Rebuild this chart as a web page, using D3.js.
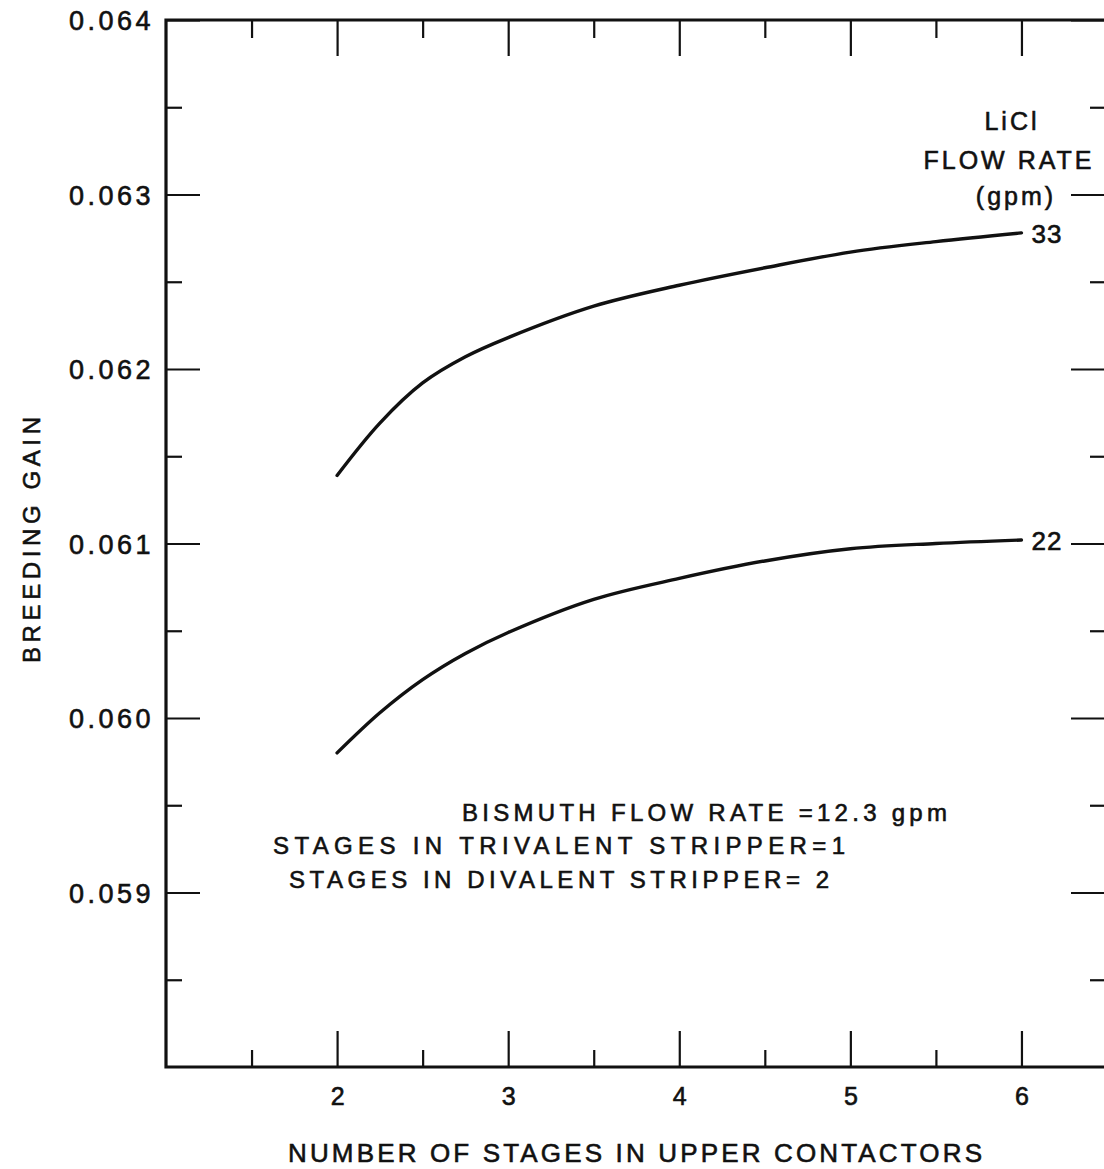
<!DOCTYPE html>
<html><head><meta charset="utf-8">
<script src="https://cdn.jsdelivr.net/npm/d3@7"></script>
<style>
body{margin:0;background:#fff;}
svg text{font-family:"Liberation Sans",Arial,sans-serif;fill:#111;stroke:#111;stroke-width:0.6px;}
</style></head>
<body><svg id="c" width="1104" height="1169"></svg>
<script>
// ---- data ----
const stages = [2, 2.25, 2.5, 2.75, 3, 3.5, 4, 4.5, 5, 5.5, 6];
const gain33 = [0.06139, 0.06169, 0.06192, 0.06207, 0.06218, 0.06236, 0.06248, 0.06258, 0.06267, 0.06273, 0.06278];
const gain22 = [0.05980, 0.06003, 0.06022, 0.06037, 0.06049, 0.06068, 0.06080, 0.06090, 0.06097, 0.06100, 0.06102];
const seriesLabels = ["33", "22"];
const xMajorTicks = [2, 3, 4, 5, 6];
const xMinorTicks = [1.5, 2.5, 3.5, 4.5, 5.5];
const yMajorTicks = [0.059, 0.060, 0.061, 0.062, 0.063, 0.064];
const yMinorTicks = [0.0585, 0.0595, 0.0605, 0.0615, 0.0625, 0.0635];
const legendTitle = ["LiCl", "FLOW RATE", "(gpm)"];
const notes = ["BISMUTH FLOW RATE =12.3 gpm", "STAGES IN TRIVALENT STRIPPER=1", "STAGES IN DIVALENT STRIPPER= 2"];
const xTitle = "NUMBER OF STAGES IN UPPER CONTACTORS";
const yTitle = "BREEDING GAIN";

const svg = d3.select("#c");
const L = 166, R = 1107, T = 20, B = 1067;
const x = d3.scaleLinear().domain([1, 6.5]).range([L, R]);
const y = d3.scaleLinear().domain([0.058, 0.064]).range([B, T]);

function styleAxis(g){
  g.select(".domain").remove();
  g.selectAll(".tick line").attr("stroke","#111").attr("stroke-width",2.2);
}
// bottom
svg.append("g").attr("transform",`translate(0,${B})`)
  .call(d3.axisBottom(x).tickValues(xMajorTicks).tickSizeInner(-36).tickSizeOuter(0).tickPadding(14).tickFormat(d3.format("d")))
  .call(styleAxis)
  .call(g=>g.selectAll("text").attr("font-size",25).attr("fill","#111").attr("dy","0.95em"));
svg.append("g").attr("transform",`translate(0,${B})`)
  .call(d3.axisBottom(x).tickValues(xMinorTicks).tickSizeInner(-17).tickSizeOuter(0).tickFormat(""))
  .call(styleAxis);
// top
svg.append("g").attr("transform",`translate(0,${T})`)
  .call(d3.axisTop(x).tickValues(xMajorTicks).tickSizeInner(-36).tickSizeOuter(0).tickFormat(""))
  .call(styleAxis);
svg.append("g").attr("transform",`translate(0,${T})`)
  .call(d3.axisTop(x).tickValues(xMinorTicks).tickSizeInner(-18).tickSizeOuter(0).tickFormat(""))
  .call(styleAxis);
// left
svg.append("g").attr("transform",`translate(${L},0)`)
  .call(d3.axisLeft(y).tickValues(yMajorTicks).tickSizeInner(-34).tickSizeOuter(0).tickPadding(12).tickFormat(d3.format(".3f")))
  .call(styleAxis)
  .call(g=>g.selectAll("text").attr("font-size",27).attr("fill","#111").attr("letter-spacing","3.5px").attr("dy","0.36em"));
svg.append("g").attr("transform",`translate(${L},0)`)
  .call(d3.axisLeft(y).tickValues(yMinorTicks).tickSizeInner(-16).tickSizeOuter(0).tickFormat(""))
  .call(styleAxis);
// right
svg.append("g").attr("transform",`translate(${R},0)`)
  .call(d3.axisRight(y).tickValues(yMajorTicks).tickSizeInner(-36).tickSizeOuter(0).tickFormat(""))
  .call(styleAxis);
svg.append("g").attr("transform",`translate(${R},0)`)
  .call(d3.axisRight(y).tickValues(yMinorTicks).tickSizeInner(-17).tickSizeOuter(0).tickFormat(""))
  .call(styleAxis);

// frame
svg.append("path")
  .attr("d",`M${R},${T}H${L}V${B}H${R}`)
  .attr("fill","none").attr("stroke","#111").attr("stroke-width",3.2);

// curves
const line = d3.line().x(d=>x(d[0])).y(d=>y(d[1])).curve(d3.curveCatmullRom.alpha(0.5));
[gain33, gain22].forEach((vals,i)=>{
  svg.append("path").datum(stages.map((s,j)=>[s, vals[j]]))
    .attr("d", line).attr("fill","none").attr("stroke","#111")
    .attr("stroke-width",3.4).attr("stroke-linecap","round");
  const last = vals[vals.length-1];
  svg.append("text").attr("x", x(6)+10).attr("y", y(last)+10)
    .attr("font-size",26).attr("letter-spacing","1px").text(seriesLabels[i]);
});

// legend title
const legY = [130, 169, 205];
const legX = [1012, 1009, 1016];
legendTitle.forEach((t,i)=>{
  svg.append("text").attr("x",legX[i]).attr("y",legY[i]).attr("text-anchor","middle")
    .attr("font-size",25).attr("letter-spacing","3px").text(t);
});

// notes
const noteX = [462, 273, 289], noteY = [821, 854, 888], noteW = [485, 572, 540];
notes.forEach((t,i)=>{
  svg.append("text").attr("x",noteX[i]).attr("y",noteY[i])
    .attr("font-size",24).attr("textLength",noteW[i]).attr("lengthAdjust","spacing").text(t);
});

// axis titles
svg.append("text").attr("x",288).attr("y",1162).attr("font-size",26)
  .attr("textLength",694).attr("lengthAdjust","spacing").text(xTitle);
svg.append("text").attr("transform","translate(40,540) rotate(-90)").attr("text-anchor","middle")
  .attr("font-size",24).attr("textLength",246).attr("lengthAdjust","spacing").text(yTitle);
</script></body></html>
